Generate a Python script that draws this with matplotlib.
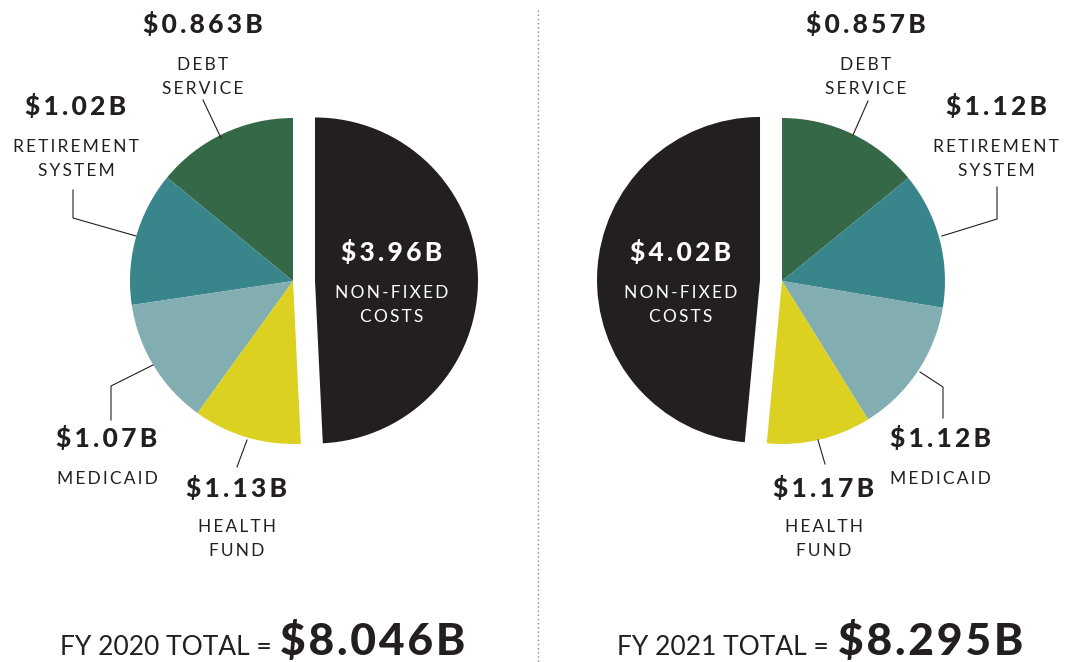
"""FY 2020 vs FY 2021 fixed and non-fixed cost pies."""
import matplotlib.pyplot as plt

# Data (billions of dollars)
categories = ['DEBT\nSERVICE', 'RETIREMENT\nSYSTEM', 'MEDICAID',
              'HEALTH\nFUND', 'NON-FIXED\nCOSTS']
fy2020 = [0.863, 1.02, 1.07, 1.13, 3.96]
fy2021 = [0.857, 1.12, 1.12, 1.17, 4.02]
totals = ['$8.046B', '$8.295B']
years = ['FY 2020', 'FY 2021']

colors = ['#356846', '#38868b', '#82aeb2', '#dcd020', '#231f20']
ink = '#231f20'

W, H = 1065, 662
plt.rcParams['font.family'] = ['Lato', 'DejaVu Sans']

fig = plt.figure(figsize=(W / 100, H / 100), dpi=100)
ax = fig.add_axes([0, 0, 1, 1])


def Y(y):
    # pixel rows are measured from the top
    return H - y


def spaced(s, gap='\u2009'):
    return gap.join(s)


def draw_pie(values, cx, counterclock):
    # the reference draws the four fixed wedges in reverse order of their
    # label values, keeping the colours in label order
    sizes = values[3::-1] + [values[4]]
    ax.pie(sizes, colors=colors, startangle=90, counterclock=counterclock,
           explode=[0, 0, 0, 0, 22], center=(cx, Y(281)), radius=163,
           wedgeprops=dict(linewidth=0))


draw_pie(fy2020, 293, True)
draw_pie(fy2021, 782, False)


def label(x, y, value, name, color=ink):
    ax.text(x, Y(y + 9.5), spaced(f'${value:g}B'), ha='center',
            va='baseline', fontsize=19, fontweight='black', color=color)
    for i, line in enumerate(name.split('\n')):
        ax.text(x, Y(y + 45.5 + 24 * i), spaced(line), ha='center',
                va='baseline', fontsize=12.5, color=color)


# left pie labels
label(203, 24, fy2020[0], categories[0])
label(76, 106, fy2020[1], categories[1])
label(107, 438, fy2020[2], categories[2])
label(237, 487, fy2020[3], categories[3])
label(392, 252, fy2020[4], categories[4], color='white')

# right pie labels
label(866, 24, fy2021[0], categories[0])
label(996, 106, fy2021[1], categories[1])
label(940, 438, fy2021[2], categories[2])
label(824, 487, fy2021[3], categories[3])
label(681, 252, fy2021[4], categories[4], color='white')

# leader lines
leaders = [
    [(203, 100), (221, 138)],
    [(73, 190), (73, 218), (136, 236)],
    [(153, 365), (111, 386), (111, 420)],
    [(247, 440), (237, 467)],
    [(868, 101), (853, 135)],
    [(997, 187), (997, 219), (942, 236)],
    [(920, 372), (943, 387), (943, 418)],
    [(818, 440), (825, 464)],
]
for pts in leaders:
    ax.plot([p[0] for p in pts], [Y(p[1]) for p in pts], color=ink, lw=0.8)

# totals
for x_text, x_total, year, total in [(272, 280, years[0], totals[0]),
                                     (829, 838, years[1], totals[1])]:
    ax.text(x_text, Y(655), f'{year} TOTAL =', ha='right',
            va='baseline', fontsize=19, color=ink)
    ax.text(x_total, Y(655), spaced(total, '\u200a'), ha='left',
            va='baseline', fontsize=32, fontweight='black', color=ink)

# divider
ax.plot([538, 538], [Y(10), Y(662)], color='#888888', lw=1, ls=(0, (1, 2)))

ax.set_xlim(0, W)
ax.set_ylim(0, H)
ax.set_aspect('equal')
ax.axis('off')

plt.savefig('out.png', dpi=100)
